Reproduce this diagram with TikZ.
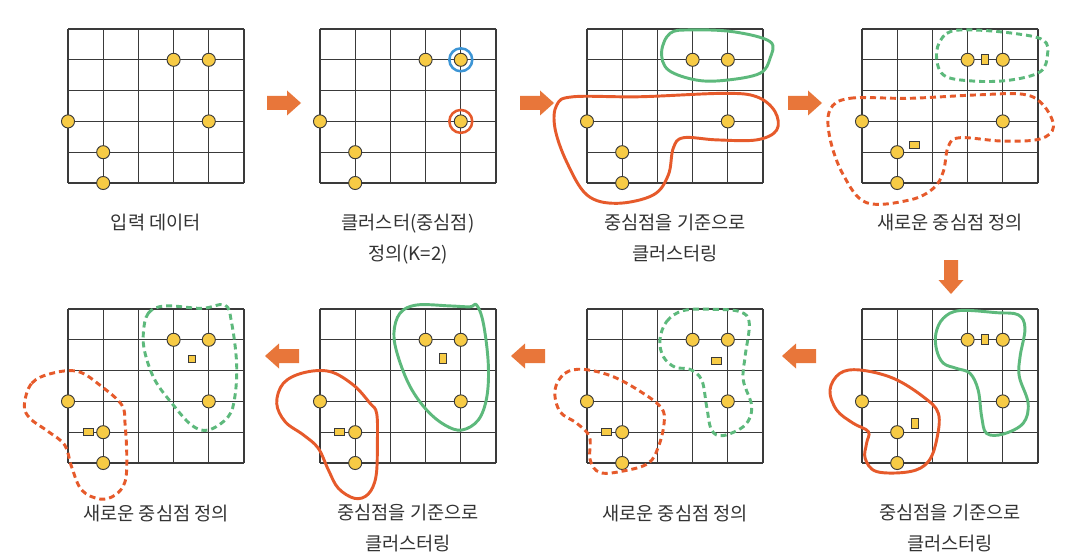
\documentclass[tikz,border=0pt]{standalone}
\usepackage{fontspec}
\setmainfont{Noto Sans CJK KR}
\definecolor{gridc}{HTML}{3A3A3A}
\definecolor{dotc}{HTML}{F7CB45}
\definecolor{orangec}{HTML}{E65A2B}
\definecolor{greenc}{HTML}{5DB97C}
\definecolor{bluec}{HTML}{3D95D5}
\definecolor{arrowc}{HTML}{E8763A}
\definecolor{textc}{HTML}{333333}
\tikzset{
  panel/.style={shift={#1}, x=26.4pt, y=-23.1pt},
  gridline/.style={draw=gridc, line width=0.9pt},
  datapt/.style={circle, draw=gridc, fill=dotc, line width=0.7pt, minimum size=9.8pt, inner sep=0pt},
  hbar/.style={rectangle, draw=gridc, fill=dotc, line width=0.6pt, minimum width=7.5pt, minimum height=5.3pt, inner sep=0pt},
  vbar/.style={rectangle, draw=gridc, fill=dotc, line width=0.6pt, minimum width=5.3pt, minimum height=7.5pt, inner sep=0pt},
  sqbar/.style={rectangle, draw=gridc, fill=dotc, line width=0.6pt, minimum size=5.5pt, inner sep=0pt},
  cluster/.style={line width=2.2pt, line join=round},
  guess/.style={cluster, dash pattern=on 4.5pt off 3pt},
  ring/.style={line width=1.9pt},
  caption/.style={font=\fontsize{14}{23}\selectfont, text=textc, align=center, anchor=base},
  flow/.pic={\fill[arrowc] (-17,-7) -- (3,-7) -- (3,-12.5) -- (17,0) -- (3,12.5) -- (3,7) -- (-17,7) -- cycle;}
}
\newcommand\datagrid[1]{%
  \foreach \i in {0,...,5} {
    \draw[gridline] (\i,0) -- (\i,5);
    \draw[gridline] (0,\i) -- (5,\i);
  }
  \foreach \p/\q [count=\n] in {3/1,4/1,0/3,4/3,1/4,1/5}
    \node[datapt] (#1\n) at (\p,\q) {};
}
\begin{document}
\begin{tikzpicture}[x=0.75pt, y=-0.75pt]
\useasboundingbox[fill=white] (0,0) rectangle (1076,560);

\begin{scope}[panel={(68,29)}]
  \datagrid{a}
\end{scope}

\begin{scope}[panel={(320,29)}]
  \datagrid{b}
  \draw[ring, bluec] (b2) circle (8.6pt);
  \draw[ring, orangec] (b4) circle (8.6pt);
\end{scope}

\begin{scope}[panel={(587,29)}]
  \datagrid{c}
  \draw[cluster, greenc] plot[smooth cycle, tension=0.6] coordinates {(2.12,0.74) (2.36,0.14) (2.93,0.03) (4.16,0.09) (5.2,0.41) (5.2,0.95) (4.91,1.44) (3.97,1.66) (3.12,1.66) (2.31,1.33)};
  \draw[cluster, orangec] plot[smooth cycle, tension=0.6] coordinates {(-0.86,2.47) (-0.39,2.2) (1.5,2.2) (3.87,2.09) (4.82,2.2) (5.34,2.68) (5.39,3.28) (4.82,3.6) (3.68,3.6) (2.74,3.53) (2.45,3.87) (2.31,4.74) (1.88,5.39) (0.84,5.66) (0.0,5.39) (-0.58,4.31) (-0.91,3.22)};
\end{scope}

\begin{scope}[panel={(862,29)}]
  \datagrid{d}
  \draw[guess, greenc] plot[smooth cycle, tension=0.6] coordinates {(2.12,0.74) (2.41,0.14) (3.07,0.03) (4.3,0.14) (5.15,0.36) (5.27,0.84) (5.06,1.39) (4.2,1.66) (3.16,1.69) (2.31,1.49)};
  \draw[guess, orangec] plot[smooth cycle, tension=0.6] coordinates {(-0.91,2.63) (-0.34,2.25) (1.36,2.25) (3.26,2.14) (4.58,2.12) (5.15,2.47) (5.44,3.17) (5.06,3.57) (4.01,3.64) (2.78,3.53) (2.45,3.82) (2.31,4.63) (2.03,5.17) (1.36,5.55) (0.13,5.64) (-0.53,4.74) (-0.91,3.55)};
  \node[vbar] (dg) at (3.5,1) {};
  \node[hbar] (do) at (1.5,3.75) {};
\end{scope}

\begin{scope}[panel={(862,309)}]
  \datagrid{e}
  \draw[cluster, greenc] plot[smooth cycle, tension=0.6] coordinates {(2.1,0.79) (2.31,0.3) (2.78,0.05) (3.83,0.12) (4.44,0.19) (4.63,0.63) (4.49,1.55) (4.47,2.2) (4.72,3.06) (4.58,3.71) (4.01,4.06) (3.54,4.04) (3.4,3.5) (3.3,2.63) (3.07,2.09) (2.69,1.93) (2.31,1.76) (2.12,1.33)};
  \draw[cluster, orangec] plot[smooth cycle, tension=0.6] coordinates {(-0.91,2.63) (-0.63,2.09) (-0.06,1.98) (0.89,2.25) (1.74,2.85) (2.17,3.39) (2.12,4.25) (1.88,4.96) (1.36,5.28) (0.42,5.28) (0.09,4.85) (0.13,4.36) (0.18,3.98) (-0.25,3.71) (-0.72,3.28)};
  \node[vbar] (eg) at (3.5,1) {};
  \node[vbar] (eo) at (1.5,3.7) {};
\end{scope}

\begin{scope}[panel={(587,309)}]
  \datagrid{f}
  \draw[guess, greenc] plot[smooth cycle, tension=0.6] coordinates {(2.07,1.01) (2.26,0.41) (2.74,0.05) (3.59,0.01) (4.35,0.09) (4.61,0.46) (4.49,1.55) (4.44,2.31) (4.68,3.17) (4.49,3.77) (3.87,4.11) (3.54,3.93) (3.4,3.17) (3.26,2.31) (2.93,1.96) (2.5,1.89) (2.17,1.55)};
  \draw[guess, orangec] plot[smooth cycle, tension=0.6] coordinates {(-0.91,2.63) (-0.63,2.09) (-0.1,1.96) (0.75,2.2) (1.6,2.74) (2.12,3.22) (2.19,3.71) (2.03,4.47) (1.74,5.01) (1.03,5.26) (0.37,5.31) (0.09,4.9) (0.07,4.15) (-0.29,3.71) (-0.77,3.33)};
  \node[hbar] (fg) at (3.69,1.68) {};
  \node[hbar] (fo) at (0.55,4) {};
\end{scope}

\begin{scope}[panel={(320,309)}]
  \datagrid{g}
  \draw[cluster, greenc] plot[smooth cycle, tension=0.6] coordinates {(2.1,0.79) (2.27,0.14) (2.75,-0.13) (3.69,-0.1) (4.26,-0.07) (4.45,-0.13) (4.64,0.46) (4.78,1.76) (4.74,2.85) (4.5,3.6) (4.03,3.93) (3.55,3.77) (3.03,3.28) (2.56,2.52) (2.22,1.55)};
  \draw[cluster, orangec] plot[smooth cycle, tension=0.6] coordinates {(-1.23,3.06) (-1.04,2.41) (-0.47,2.07) (0.28,2.03) (0.95,2.47) (1.42,3.06) (1.61,3.39) (1.63,4.36) (1.59,5.44) (1.37,6.01) (0.99,6.15) (0.52,5.82) (0.24,5.23) (-0.05,4.52) (-0.47,4.09) (-0.99,3.66)};
  \node[vbar] (gg) at (3.5,1.62) {};
  \node[hbar] (go) at (0.55,4) {};
\end{scope}

\begin{scope}[panel={(68,309)}]
  \datagrid{h}
  \draw[guess, greenc] plot[smooth cycle, tension=0.6] coordinates {(2.14,0.79) (2.28,0.14) (2.76,-0.1) (3.8,-0.02) (4.46,-0.13) (4.65,0.46) (4.79,1.76) (4.74,2.85) (4.55,3.5) (3.99,3.93) (3.51,3.77) (2.95,3.06) (2.47,2.31) (2.19,1.44)};
  \draw[guess, orangec] plot[smooth cycle, tension=0.6] coordinates {(-1.24,3.12) (-1.03,2.41) (-0.46,2.09) (0.29,2.03) (0.96,2.52) (1.53,3.12) (1.62,3.71) (1.67,4.8) (1.62,5.61) (1.34,6.04) (0.91,6.17) (0.39,5.88) (0.1,5.12) (-0.09,4.42) (-0.56,3.98) (-1.08,3.55)};
  \node[sqbar] (hg) at (3.52,1.62) {};
  \node[hbar] (ho) at (0.58,4) {};
\end{scope}

\pic at (284,103) {flow};
\pic at (537,103) {flow};
\pic at (805,103) {flow};
\pic[rotate=-90] at (951,277) {flow};
\pic[rotate=180] at (799,356) {flow};
\pic[rotate=180] at (528,356) {flow};
\pic[rotate=180] at (282,356) {flow};

\node[caption] (cap1) at (156,229) {입력 데이터};
\node[caption] (cap2) at (408,260) {클러스터(중심점)\\정의(K=2)};
\node[caption] (cap3) at (675,260) {중심점을 기준으로\\클러스터링};
\node[caption] (cap4) at (950,229) {새로운 중심점 정의};
\node[caption] (cap5) at (950,550) {중심점을 기준으로\\클러스터링};
\node[caption] (cap6) at (675,520) {새로운 중심점 정의};
\node[caption] (cap7) at (408,550) {중심점을 기준으로\\클러스터링};
\node[caption] (cap8) at (156,520) {새로운 중심점 정의};
\end{tikzpicture}
\end{document}
